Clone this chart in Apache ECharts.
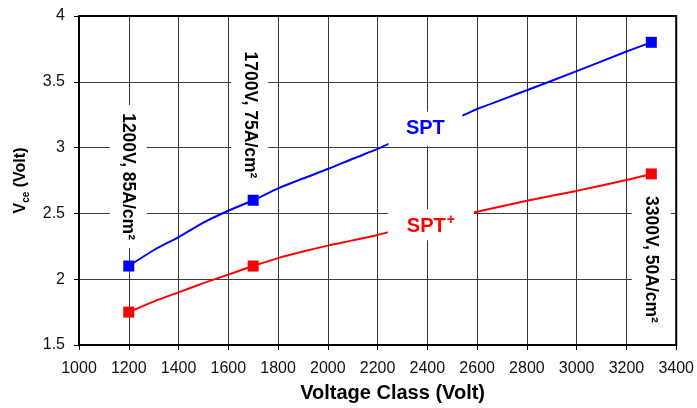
<!DOCTYPE html>
<html><head><meta charset="utf-8">
<script src="https://cdn.jsdelivr.net/npm/echarts@6/dist/echarts.min.js"></script>
<style>html,body{margin:0;padding:0;background:#fff}#c{width:697px;height:408px}</style>
</head><body><div id="c"></div>
<script>
// Axis ranges / ticks
const xMin = 1000, xMax = 3400, xStep = 200;
const yMin = 1.5, yMax = 4, yStep = 0.5;

// SPT (blue) curve
const sptX = [1200, 1300, 1400, 1500, 1600, 1700, 1800, 1900, 2000, 2100, 2200, 2240, 2540, 2600, 2800, 3000, 3200, 3300];
const sptY = [2.1, 2.22, 2.32, 2.43, 2.52, 2.6, 2.69, 2.765, 2.837, 2.915, 2.99, 3.025, 3.243, 3.293, 3.436, 3.581, 3.73, 3.8];
// SPT+ (red) curve
const sptPlusX = [1200, 1300, 1400, 1500, 1600, 1700, 1800, 1900, 2000, 2100, 2200, 2240, 2590, 2800, 3000, 3200, 3300];
const sptPlusY = [1.75, 1.83, 1.9, 1.97, 2.035, 2.1, 2.16, 2.21, 2.255, 2.295, 2.336, 2.356, 2.509, 2.596, 2.671, 2.754, 2.8];
// Measured points (markers)
const markerX = [1200, 1700, 3300];
const sptMarkY = [2.1, 2.6, 3.8];
const sptPlusMarkY = [1.75, 2.1, 2.8];

const zip = (xs, ys) => xs.map((x, i) => [x, ys[i]]);
const FONT = '"Liberation Sans", Arial, sans-serif';

const chart = echarts.init(document.getElementById('c'), null, {renderer: 'canvas'});
chart.setOption({
  animation: false,
  backgroundColor: '#fff',
  grid: {left: 79, right: 18, top: 16, bottom: 60, show: true, borderColor: '#000', borderWidth: 2, backgroundColor: 'transparent', z: 5},
  xAxis: {
    type: 'value', min: xMin, max: xMax, interval: xStep,
    name: 'Voltage Class (Volt)', nameLocation: 'middle', nameGap: 38,
    nameTextStyle: {fontFamily: FONT, fontSize: 20, fontWeight: 'bold', color: '#000', padding: [0, 0, 0, 30]},
    axisLine: {show: false},
    axisTick: {show: true, length: 5, inside: false, lineStyle: {color: '#000'}},
    axisLabel: {fontFamily: FONT, fontSize: 16, color: '#111', margin: 16, formatter: v => String(v)},
    splitLine: {show: true, lineStyle: {color: '#3a3a3a', width: 1}}
  },
  yAxis: {
    type: 'value', min: yMin, max: yMax, interval: yStep,
    name: '{b|V}{s|ce}{b| (Volt)}', nameLocation: 'middle', nameGap: 48,
    nameTextStyle: {
      fontFamily: FONT, color: '#000',
      rich: {
        b: {fontFamily: FONT, fontSize: 16, fontWeight: 'bold', color: '#000', lineHeight: 20},
        s: {fontFamily: FONT, fontSize: 10, fontWeight: 'bold', color: '#000', verticalAlign: 'bottom', lineHeight: 20, padding: [6, 0, 0, 0]}
      }
    },
    axisLine: {show: false},
    axisTick: {show: true, length: 5, inside: false, lineStyle: {color: '#000'}},
    axisLabel: {fontFamily: FONT, fontSize: 16, color: '#111', margin: 14},
    splitLine: {show: true, lineStyle: {color: '#3a3a3a', width: 1}}
  },
  series: [
    {type: 'line', data: zip(sptX, sptY), showSymbol: false, symbol: 'none', smooth: 0.25,
     lineStyle: {color: '#0000ff', width: 2}, z: 3},
    {type: 'line', data: zip(sptPlusX, sptPlusY), showSymbol: false, symbol: 'none', smooth: 0.25,
     lineStyle: {color: '#ff0000', width: 2}, z: 3},
    {type: 'scatter', data: zip(markerX, sptMarkY), symbol: 'rect', symbolSize: 11,
     itemStyle: {color: '#0000ff', opacity: 1}, z: 4},
    {type: 'scatter', data: zip(markerX, sptPlusMarkY), symbol: 'rect', symbolSize: 11,
     itemStyle: {color: '#ff0000', opacity: 1}, z: 4}
  ]
});

// Annotations (anchored at data coordinates)
const annotations = [
  {text: '1200V, 85A/cm²', at: [1198, 2.78], box: [37, 143], rotate: true, color: '#000', size: 17.5},
  {text: '1700V, 75A/cm²', at: [1686, 3.248], box: [37, 143], rotate: true, color: '#000', size: 17.5},
  {text: '3300V, 50A/cm²', at: [3300, 2.15], box: [39, 140], rotate: true, color: '#000', size: 17.5},
  {text: 'SPT', at: [2392, 3.143], box: [74, 34], rotate: false, color: '#0000ff', size: 20},
  {text: '{m|SPT}{p|+}', at: [2414, 2.414], box: [86, 31], rotate: false, color: '#ff0000', size: 20, rich: true}
];
const graphics = [];
annotations.forEach(a => {
  const p = chart.convertToPixel({gridIndex: 0}, a.at);
  graphics.push({type: 'rect', shape: {x: p[0] - a.box[0] / 2, y: p[1] - a.box[1] / 2, width: a.box[0], height: a.box[1]},
    style: {fill: '#fff'}, z: 100});
  const style = {text: a.text, fill: a.color, fontFamily: FONT, fontSize: a.size, fontWeight: 'bold', align: 'center', verticalAlign: 'middle'};
  if (a.rich) {
    style.rich = {
      m: {fontFamily: FONT, fontSize: a.size, fontWeight: 'bold', fill: a.color, color: a.color, lineHeight: 24, verticalAlign: 'bottom'},
      p: {fontFamily: FONT, fontSize: 14, fontWeight: 'bold', fill: a.color, color: a.color, lineHeight: 24, verticalAlign: 'top', padding: [0, 0, 0, 1]}
    };
  }
  graphics.push({type: 'text', x: p[0], y: p[1], rotation: a.rotate ? -Math.PI / 2 : 0, style: style, z: 101});
});
chart.setOption({graphic: graphics});
</script>
</body></html>
